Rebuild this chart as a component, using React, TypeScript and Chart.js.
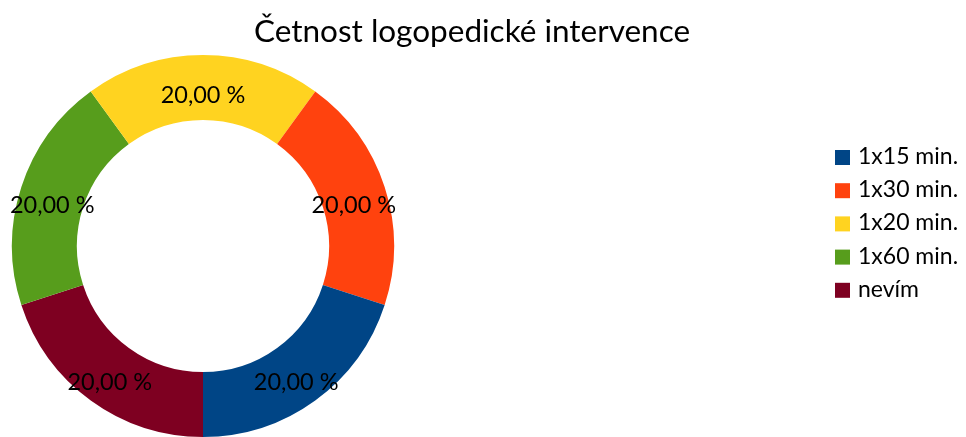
import React, { useEffect, useRef } from "react";
import { Chart, registerables } from "chart.js";

Chart.register(...registerables);

const titleText = "Četnost logopedické intervence";
const categories = ["1x15 min.", "1x30 min.", "1x20 min.", "1x60 min.", "nevím"];
const values = [20, 20, 20, 20, 20];
const colors = ["#004586", "#ff420e", "#ffd320", "#579d1c", "#7e0021"];

const FONT = "Lato, 'Open Sans', sans-serif";

const fmt = (v: number, total: number) =>
  ((v / total) * 100).toFixed(2).replace(".", ",") + " %";

export default function App() {
  const ref = useRef<HTMLCanvasElement | null>(null);

  useEffect(() => {
    if (!ref.current) return;
    // drawn counter-clockwise from the bottom: reverse the order for Chart.js (clockwise)
    const labelsRev = [...categories].reverse();
    const valuesRev = [...values].reverse();
    const colorsRev = [...colors].reverse();
    const total = values.reduce((a, b) => a + b, 0);

    const overlay = {
      id: "overlay",
      afterDraw(chart: any) {
        const ctx = chart.ctx as CanvasRenderingContext2D;
        ctx.save();
        // title
        ctx.fillStyle = "#000";
        ctx.font = `31.5px ${FONT}`;
        ctx.textAlign = "center";
        ctx.textBaseline = "alphabetic";
        ctx.fillText(titleText, 472, 42);
        // slice labels
        const meta = chart.getDatasetMeta(0);
        ctx.font = `23.5px ${FONT}`;
        ctx.textBaseline = "middle";
        meta.data.forEach((arc: any, i: number) => {
          const p = arc.getCenterPoint();
          ctx.fillText(fmt(valuesRev[i], total), p.x, p.y + 8);
        });
        // legend
        ctx.textAlign = "left";
        ctx.textBaseline = "alphabetic";
        ctx.font = `23px ${FONT}`;
        categories.forEach((c, i) => {
          const y = 150 + i * 33.2;
          ctx.fillStyle = colors[i];
          ctx.fillRect(835, y, 15, 15);
          ctx.fillStyle = "#000";
          ctx.fillText(c, 858, y + 14);
        });
        ctx.restore();
      },
    };

    const chart = new Chart(ref.current, {
      type: "doughnut",
      data: {
        labels: labelsRev,
        datasets: [
          {
            data: valuesRev,
            backgroundColor: colorsRev,
            borderWidth: 0,
          },
        ],
      },
      options: {
        animation: false,
        responsive: false,
        rotation: 180,
        cutout: "66%",
        layout: { padding: { left: 12, right: 572, top: 55, bottom: 0 } },
        plugins: {
          legend: { display: false },
          title: { display: false },
          tooltip: { enabled: false },
        },
      },
      plugins: [overlay],
    });
    return () => chart.destroy();
  }, []);

  return (
    <div style={{ position: "fixed", left: 0, top: 0, width: 966, height: 437, background: "#fff" }}>
      <canvas ref={ref} width={966} height={437} style={{ display: "block", width: 966, height: 437 }} />
    </div>
  );
}
